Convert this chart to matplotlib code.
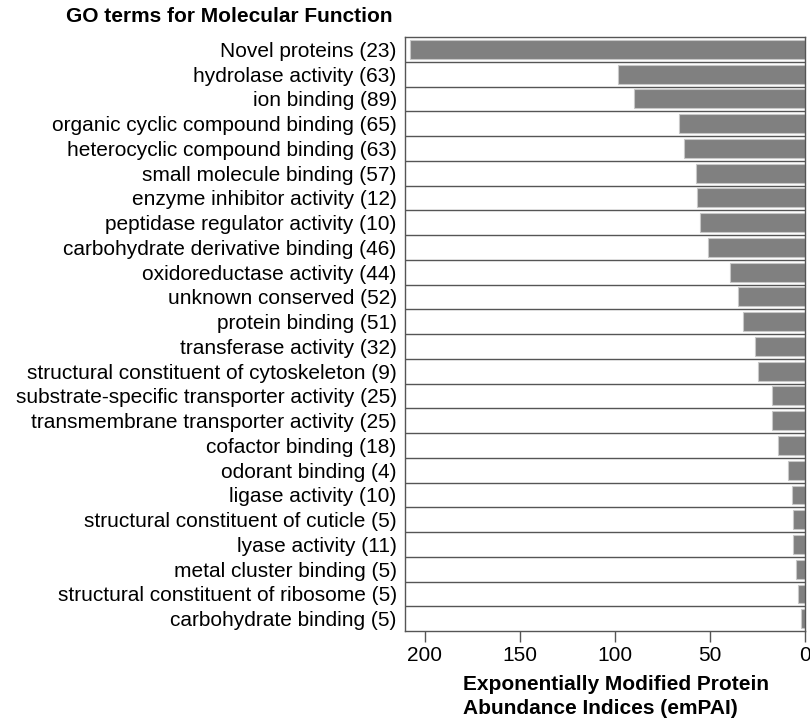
import matplotlib
matplotlib.use("Agg")
import matplotlib.pyplot as plt

# GO terms (molecular function) with protein counts
terms = [
    "Novel proteins (23)",
    "hydrolase activity (63)",
    "ion binding (89)",
    "organic cyclic compound binding (65)",
    "heterocyclic compound binding (63)",
    "small molecule binding (57)",
    "enzyme inhibitor activity (12)",
    "peptidase regulator activity (10)",
    "carbohydrate derivative binding (46)",
    "oxidoreductase activity (44)",
    "unknown conserved (52)",
    "protein binding (51)",
    "transferase activity (32)",
    "structural constituent of cytoskeleton (9)",
    "substrate-specific transporter activity (25)",
    "transmembrane transporter activity (25)",
    "cofactor binding (18)",
    "odorant binding (4)",
    "ligase activity (10)",
    "structural constituent of cuticle (5)",
    "lyase activity (11)",
    "metal cluster binding (5)",
    "structural constituent of ribosome (5)",
    "carbohydrate binding (5)",
]
empai = [208, 98.5, 89.8, 66.5, 63.5, 57.5, 57, 55, 51,
         39.5, 35, 32.5, 26.3, 24.6, 17.5, 17.4, 14, 8.8,
         7, 6.3, 6.3, 4.6, 3.7, 1.9]
xticks = [200, 150, 100, 50, 0]

plt.rcParams['font.family'] = ['Liberation Sans', 'DejaVu Sans']

fig = plt.figure(figsize=(8.1, 7.23), dpi=100)
ax = fig.add_axes([0.5, 0.1272, 0.4938, 0.8216])

pos = list(range(len(terms)))
ax.barh(pos, empai, height=0.76, color='#808080', edgecolor='#c8c8c8', linewidth=0.8)

# row separators
for i in range(len(terms) - 1):
    ax.axhline(i + 0.5, color='#555555', lw=1.0)

ax.set_xlim(210.5, 0)
ax.set_ylim(len(terms) - 0.5, -0.5)
ax.set_yticks(pos)
ax.set_yticklabels(terms, fontsize=15)
ax.tick_params(axis='y', length=0, pad=6)
ax.set_xticks(xticks)
ax.set_xticklabels([str(t) for t in xticks], fontsize=15)
ax.tick_params(axis='x', length=8, width=1, color='#555555', pad=3)

for s in ax.spines.values():
    s.set_color('#555555')
    s.set_linewidth(1.0)

fig.text(392 / 810, 1 - 17 / 723, "GO terms for Molecular Function",
         ha='right', va='center', fontsize=15, fontweight='bold')
fig.text(463 / 810, 1 - 685 / 723, "Exponentially Modified Protein",
         ha='left', va='center', fontsize=15, fontweight='bold')
fig.text(463 / 810, 1 - 708 / 723, "Abundance Indices (emPAI)",
         ha='left', va='center', fontsize=15, fontweight='bold')

fig.savefig("out.png", dpi=100)
